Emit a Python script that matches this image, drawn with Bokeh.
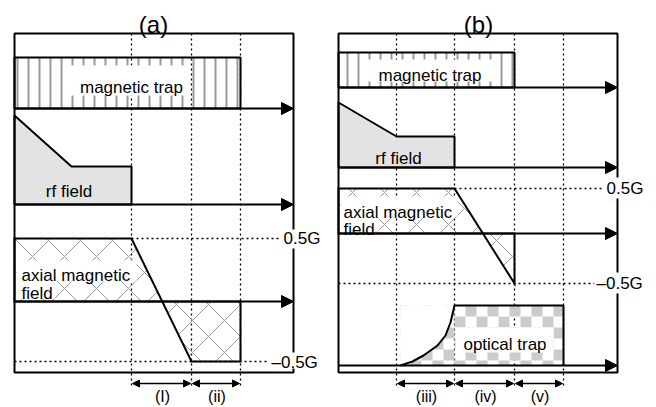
import numpy as np
from bokeh.plotting import figure
from bokeh.models import Range1d, Arrow, NormalHead
from bokeh.core.properties import value
from bokeh.embed import file_html
from bokeh.resources import INLINE

# ---------------- schematic data ----------------
panel_titles = ["(a)", "(b)"]
title_x = [153, 478]
frame_left = [14, 338]
frame_right = [293, 617]
frame_top = [33, 33]
frame_bottom = [372, 372]

# time markers (dashed verticals) and phase labels
a_marks = [131, 191, 240]
b_marks = [396, 454, 514, 563]
a_phase_labels = ["(I)", "(ii)"]
b_phase_labels = ["(iii)", "(iv)", "(v)"]

# channel time axes (baselines)
a_axes_y = [108, 204, 301]
b_axes_y = [87, 167, 233, 365]

# magnetic trap on/off
a_trap_x = [14, 240]
a_trap_top = 57
b_trap_x = [338, 514]
b_trap_top = 52

# rf field ramp
a_rf_x = [14, 14, 71, 131, 131]
a_rf_y = [204, 115, 166, 166, 204]
b_rf_x = [338, 338, 396, 454, 454]
b_rf_y = [167, 102, 136, 136, 167]

# axial magnetic field (+0.5 G -> -0.5 G)
a_field_levels = [238, 361]
b_field_levels = [188, 283]
a_ax_x = [14, 14, 131, 191, 240, 240]
a_ax_y = [301, 238, 238, 361, 361, 301]
b_ax_x = [338, 338, 454, 514, 514]
b_ax_y = [233, 188, 188, 283, 233]
field_labels = ["0.5G", "\u20130.5G"]

# optical trap ramp-up
opt_x = [400, 412, 423, 437, 445, 450, 454, 563, 563]
opt_y = [365, 361, 355, 345, 335, 322, 305, 305, 365]

FONT = "Liberation Sans"
GRAY_HATCH = "#9a9a9a"

p = figure(width=656, height=407, x_range=Range1d(0, 656), y_range=Range1d(407, 0),
           output_backend="svg", toolbar_location=None, min_border=0,
           x_axis_type=None, y_axis_type=None,
           background_fill_color="white", border_fill_color="white")
p.grid.visible = False
p.outline_line_color = None


def txt(x, y, s, size, align="left", baseline="alphabetic"):
    p.text(x=[x], y=[y], text=[s], text_font=value(FONT), text_font_size=f"{size}px",
           text_align=align, text_baseline=baseline, text_color="black")


def white_box(l, r, t, b):
    p.quad(left=[l], right=[r], top=[t], bottom=[b], fill_color="white", line_color=None)


DASH = "2 3"

# dashed time markers
for m in a_marks + b_marks:
    p.segment(x0=[m], y0=[frame_top[0]], x1=[m], y1=[387], line_dash=DASH,
              line_width=1.3, line_color="black")

# dashed field level lines
p.segment(x0=[a_marks[0], frame_left[0]], y0=a_field_levels, x1=[281, 268], y1=a_field_levels,
          line_dash=DASH, line_width=1.3, line_color="black")
p.segment(x0=[b_marks[1], frame_left[1]], y0=b_field_levels, x1=[603, 594], y1=b_field_levels,
          line_dash=DASH, line_width=1.3, line_color="black")

# magnetic trap boxes (vertical stripes)
p.quad(left=[a_trap_x[0], b_trap_x[0]], right=[a_trap_x[1], b_trap_x[1]],
       top=[a_trap_top, b_trap_top], bottom=[a_axes_y[0], b_axes_y[0]],
       fill_color="white", fill_alpha=0, hatch_pattern="|", hatch_scale=11,
       hatch_color=GRAY_HATCH, hatch_weight=2, line_color="black", line_width=2)

# rf field
p.patch(a_rf_x, a_rf_y, fill_color="#e3e3e3", line_color="black", line_width=2)
p.patch(b_rf_x, b_rf_y, fill_color="#e3e3e3", line_color="black", line_width=2)

# axial magnetic field (cross hatch)
for xs, ys in [(a_ax_x, a_ax_y), (b_ax_x, b_ax_y)]:
    p.patch(xs, ys, fill_color="white", fill_alpha=0, hatch_pattern="x", hatch_scale=32,
            hatch_color=GRAY_HATCH, hatch_weight=1, line_color="black", line_width=2,
            line_join="miter")

# optical trap: checkerboard fill
x0c, y0c, cell = opt_x[6], opt_y[6], 11
lefts, rights, tops, bottoms = [], [], [], []
for i in range(-6, 11):
    for j in range(0, 6):
        if (i + j) % 2 == 1:
            l = x0c + i * cell
            t = y0c + j * cell
            l2, r2 = max(l, opt_x[0]), min(l + cell, opt_x[-1])
            t2, b2 = t, min(t + cell, opt_y[0])
            if r2 > l2 and b2 > t2:
                lefts.append(l2); rights.append(r2); tops.append(t2); bottoms.append(b2)
p.quad(left=lefts, right=rights, top=tops, bottom=bottoms, fill_color="#cccccc", line_color=None)
# mask above the rising curve
mask_x = opt_x[:7] + [opt_x[0]]
mask_y = opt_y[:7] + [opt_y[6]]
p.patch(mask_x, mask_y, fill_color="white", line_color=None)
p.line(opt_x, opt_y, line_color="black", line_width=2)

# panel frames
p.quad(left=frame_left, right=frame_right, top=frame_top, bottom=frame_bottom,
       fill_color=None, line_color="black", line_width=2)

# text boxes and labels inside channels
white_box(68, 187, 65, 95)
txt(131, 87, "magnetic trap", 17, "center")
white_box(366, 493, 59, 81)
txt(429.5, 75, "magnetic trap", 17, "center")

txt(68.5, 191, "rf field", 17, "center")
txt(398, 158, "rf field", 17, "center")

white_box(16, 136, 260, 281)
white_box(16, 55, 279, 298)
txt(21, 275, "axial magnetic", 17)
txt(21, 293, "field", 17)
white_box(340, 457, 196, 216)
white_box(340, 378, 214, 231)
txt(343, 212, "axial magnetic", 17)
txt(343, 229, "field", 17)

white_box(455, 553, 327, 352)
txt(504.5, 344, "optical trap", 17, "center")

# field level labels (interrupt frame)
white_box(282, 323, 229, 248)
white_box(270, 323, 352, 368)
txt(283, 238, field_labels[0], 17, "left", "middle")
txt(271, 362, field_labels[1], 17, "left", "middle")
white_box(604, 650, 177, 198)
white_box(594, 650, 272, 293)
txt(606, 188, field_labels[0], 17, "left", "middle")
txt(596, 283, field_labels[1], 17, "left", "middle")

# titles
for tx, tt in zip(title_x, panel_titles):
    txt(tx, 24, tt, 24, "center")

# phase labels
for k, lab in enumerate(a_phase_labels):
    txt((a_marks[k] + a_marks[k + 1]) / 2 + 1, 396, lab, 16, "center", "middle")
for k, lab in enumerate(b_phase_labels):
    txt((b_marks[k] + b_marks[k + 1]) / 2 + 1, 396, lab, 16, "center", "middle")

# channel time axes (arrows)
for y in a_axes_y:
    p.add_layout(Arrow(end=NormalHead(size=12, fill_color="black", line_color="black"),
                       x_start=frame_left[0], y_start=y, x_end=frame_right[0], y_end=y,
                       line_width=2, line_color="black"))
for y in b_axes_y:
    p.add_layout(Arrow(end=NormalHead(size=12, fill_color="black", line_color="black"),
                       x_start=frame_left[1], y_start=y, x_end=frame_right[1], y_end=y,
                       line_width=2, line_color="black"))

# phase duration arrows
for marks in (a_marks, b_marks):
    for k in range(len(marks) - 1):
        p.add_layout(Arrow(start=NormalHead(size=7, fill_color="black", line_color="black"),
                           end=NormalHead(size=7, fill_color="black", line_color="black"),
                           x_start=marks[k] + 1, y_start=383, x_end=marks[k + 1] - 1, y_end=383,
                           line_width=1.5, line_color="black"))

open("out.html", "w").write(file_html(p, INLINE))
